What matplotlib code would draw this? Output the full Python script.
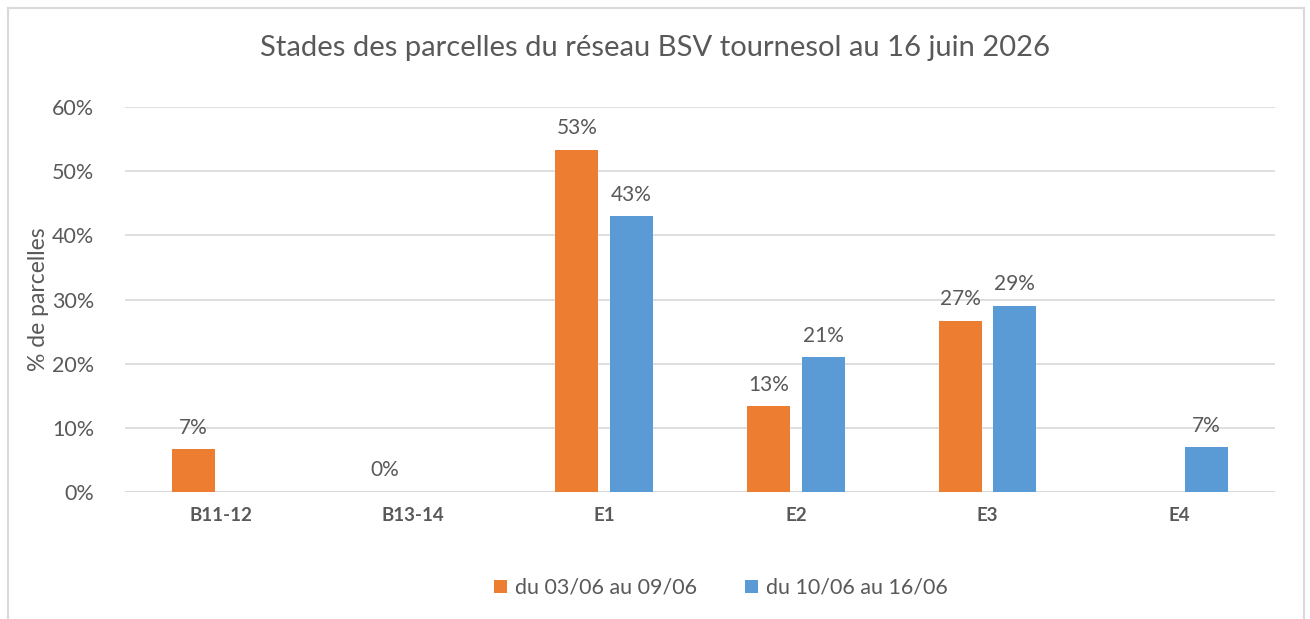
import numpy as np
import matplotlib.pyplot as plt
from matplotlib.lines import Line2D

categories = ['B11-12', 'B13-14', 'E1', 'E2', 'E3', 'E4']
serie1 = [6.67, 0.0, 53.33, 13.33, 26.67, None]
serie2 = [None, None, 43.0, 21.0, 29.0, 7.0]
noms = ['du 03/06 au 09/06', 'du 10/06 au 16/06']
couleurs = ['#ED7D31', '#5B9BD5']

plt.rcParams['font.family'] = ['Lato', 'DejaVu Sans']
gris = '#595959'

fig = plt.figure(figsize=(13.1, 6.19), dpi=100)
ax = fig.add_axes([125 / 1310, 1 - 492 / 619, 1150 / 1310, 385 / 619])

x = np.arange(len(categories))
larg = 0.224
dec = 0.143

for i, (serie, c, nom) in enumerate(zip([serie1, serie2], couleurs, noms)):
    vals = np.array([np.nan if v is None else v for v in serie]) / 100
    pos = x + (dec if i else -dec)
    ax.bar(pos, np.nan_to_num(vals), width=larg, color=c, label=nom, zorder=3)
    for p, v in zip(pos, vals):
        if not np.isnan(v):
            ax.text(p, v + 0.018, f'{v:.0%}', ha='center', va='bottom',
                    fontsize=15, color=gris)

ax.set_xlim(-0.5, len(categories) - 0.5)
ax.set_ylim(0, 0.6)
ax.set_yticks(np.arange(0, 0.61, 0.1))
ax.set_yticklabels([f'{t:.0%}' for t in np.arange(0, 0.61, 0.1)])
ax.set_xticks(x)
ax.set_xticklabels(categories, fontweight='bold')
ax.tick_params(axis='y', length=0, pad=22, labelsize=15.5, labelcolor=gris)
ax.tick_params(axis='x', length=0, pad=11, labelsize=13.5, labelcolor=gris)
ax.grid(axis='y', color='#D9D9D9', linewidth=1.2, zorder=0)
for s in ax.spines.values():
    s.set_visible(False)
ax.axhline(0, color='#D9D9D9', linewidth=1.2, zorder=2)

ax.set_ylabel('% de parcelles', fontsize=16.5, color=gris, labelpad=2)
fig.text(0.5, 1 - 48 / 619, 'Stades des parcelles du réseau BSV tournesol au 16 juin 2026',
         ha='center', va='center', fontsize=21, color=gris)

ax.legend(loc='center', bbox_to_anchor=(721 / 1310, 1 - 588 / 619), bbox_transform=fig.transFigure,
          ncol=2, frameon=False, fontsize=15.5, labelcolor=gris, handlelength=0.6,
          handleheight=0.6, handletextpad=0.4, columnspacing=2.2)

# cadre du graphique
bord = '#D9D9D9'
fig.add_artist(Line2D([8 / 1310, 8 / 1310], [0, 1 - 8 / 619], color=bord, lw=1.5, transform=fig.transFigure))
fig.add_artist(Line2D([8 / 1310, 1304 / 1310], [1 - 8 / 619, 1 - 8 / 619], color=bord, lw=1.5, transform=fig.transFigure))
fig.add_artist(Line2D([1304 / 1310, 1304 / 1310], [0, 1 - 8 / 619], color=bord, lw=1.5, transform=fig.transFigure))

fig.savefig('out.png', dpi=100)
